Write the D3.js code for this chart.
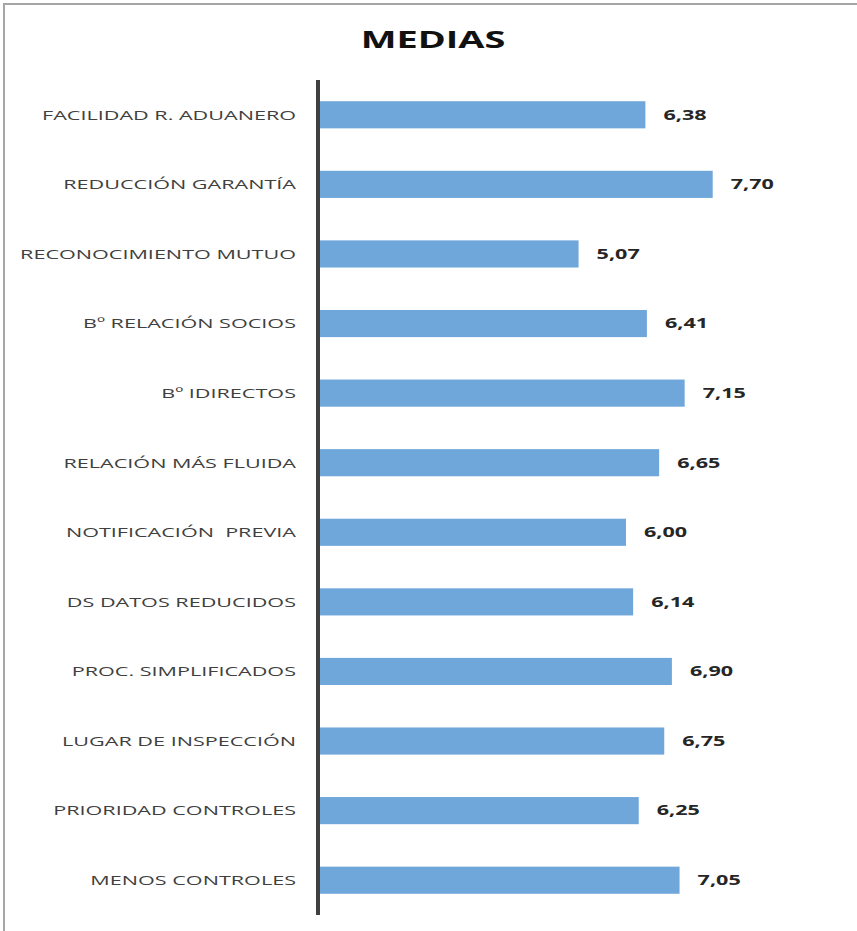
<!DOCTYPE html>
<html>
<head>
<meta charset="utf-8">
<script src="https://cdn.jsdelivr.net/npm/d3@7"></script>
<style>
  body { margin: 0; background: #fff; }
  text { font-family: "Open Sans", sans-serif; white-space: pre; }
</style>
</head>
<body>
<svg id="chart" width="857" height="931"></svg>
<script>
'use strict'

const categories = [
	'FACILIDAD R. ADUANERO',
	'REDUCCIÓN GARANTÍA',
	'RECONOCIMIENTO MUTUO',
	'Bº RELACIÓN SOCIOS',
	'Bº IDIRECTOS',
	'RELACIÓN MÁS FLUIDA',
	'NOTIFICACIÓN  PREVIA',
	'DS DATOS REDUCIDOS',
	'PROC. SIMPLIFICADOS',
	'LUGAR DE INSPECCIÓN',
	'PRIORIDAD CONTROLES',
	'MENOS CONTROLES'
]
const values = [6.38, 7.70, 5.07, 6.41, 7.15, 6.65, 6.00, 6.14, 6.90, 6.75, 6.25, 7.05]
const title = 'MEDIAS'

const svg = d3.select('#chart')
const stretch = 1.6

// frame (only top and left edges are visible in the picture)
svg.append('path')
	.attr('d', 'M4,931 V4 H857')
	.attr('fill', 'none')
	.attr('stroke', '#a6a6a6')
	.attr('stroke-width', 2)

const x = d3.scaleLinear().domain([0, 10]).range([320, 830])
const y = d3.scaleBand()
	.domain(categories)
	.range([80, 915])
	.paddingInner(0.61)
	.paddingOuter(0.305)

svg.append('g')
	.attr('transform', 'translate(433,48) scale(' + 1.65 + ',1)')
	.append('text')
	.attr('text-anchor', 'middle')
	.style('font-size', '23px')
	.style('font-weight', 'bold')
	.attr('fill', '#111')
	.text(title)

const data = categories.map((c, i) => ({ name: c, value: values[i] }))

svg.selectAll('.bar')
	.data(data)
	.enter()
	.append('rect')
	.attr('class', 'bar')
	.attr('x', x(0))
	.attr('y', d => y(d.name))
	.attr('width', d => x(d.value) - x(0))
	.attr('height', y.bandwidth())
	.attr('fill', '#70a7db')

// category labels
svg.selectAll('.cat')
	.data(data)
	.enter()
	.append('g')
	.attr('class', 'cat')
	.attr('transform', d => 'translate(296,' + (y(d.name) + y.bandwidth() / 2) + ') scale(' + stretch + ',1)')
	.append('text')
	.attr('text-anchor', 'end')
	.attr('dy', '0.36em')
	.style('font-size', '13.5px')
	.attr('fill', '#404040')
	.text(d => d.name)

// value labels
const fmt = d3.formatLocale({ decimal: ',', thousands: '.', grouping: [3], currency: ['', '€'] }).format('.2f')
svg.selectAll('.val')
	.data(data)
	.enter()
	.append('g')
	.attr('class', 'val')
	.attr('transform', d => 'translate(' + (x(d.value) + 18) + ',' + (y(d.name) + y.bandwidth() / 2) + ') scale(' + stretch + ',1)')
	.append('text')
	.attr('dy', '0.36em')
	.style('font-size', '13.5px')
	.style('font-weight', 'bold')
	.attr('fill', '#262626')
	.text(d => fmt(d.value))

// axis line
svg.append('line')
	.attr('x1', 318).attr('x2', 318)
	.attr('y1', 80).attr('y2', 915)
	.attr('stroke', '#404040')
	.attr('stroke-width', 4)
</script>
</body>
</html>
